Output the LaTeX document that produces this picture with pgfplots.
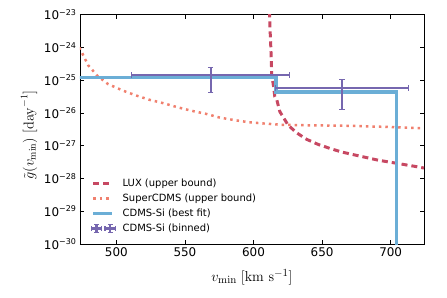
\documentclass[border=0pt]{standalone}
\usepackage[no-math]{fontspec}
\setmainfont{DejaVu Sans}
\usepackage{pgfplots}
\pgfplotsset{compat=1.18}
\definecolor{luxc}{RGB}{199,72,98}
\definecolor{scdms}{RGB}{240,128,110}
\definecolor{cdmsb}{RGB}{107,174,214}
\definecolor{cdmsp}{RGB}{118,103,175}
\begin{document}
\begin{tikzpicture}
\begin{axis}[
  at={(0,0)}, anchor=south west,
  width=344bp, height=229.3bp, scale only axis,
  ymode=log, log basis y=10,
  xmin=473.5, xmax=724.3, ymin=1e-30, ymax=1e-23,
  xtick={500,550,600,650,700},
  ytick={1e-30,1e-29,1e-28,1e-27,1e-26,1e-25,1e-24,1e-23},
  yticklabels={10\textsuperscript{−30},10\textsuperscript{−29},10\textsuperscript{−28},10\textsuperscript{−27},10\textsuperscript{−26},10\textsuperscript{−25},10\textsuperscript{−24},10\textsuperscript{−23}},
  /pgf/number format/assume math mode=true,
  /pgf/number format/1000 sep={},
  tick label style={font=\fontsize{12}{14}\selectfont, black},
  tick align=inside,
  major tick length=4bp, minor tick length=2bp,
  every tick/.style={black, line width=0.6pt},
  axis line style={line width=0.9pt},
  xlabel={$v_{\rm min}\;[{\rm km\ s^{-1}}]$},
  ylabel={$\tilde{g}(v_{\rm min})\;[{\rm day}^{-1}]$},
  xlabel style={font=\fontsize{15}{17}\selectfont, at={(axis description cs:0.5,-0.144)}, anchor=center},
  ylabel style={font=\fontsize{14}{16}\selectfont, at={(axis description cs:-0.148,0.475)}, anchor=center},
  legend style={at={(0.02,0.03)}, anchor=south west, draw=none, fill=none,
    font=\fontsize{10}{12}\selectfont, row sep=2pt, column sep=4bp},
  legend cell align=left,
  legend image code/.code={\draw[#1] (0bp,0bp) -- (18.3bp,0bp);},
]
\addplot[luxc, line width=3pt, dash pattern=on 6pt off 4pt] coordinates {
(611.7,1.26e-23) (612.0,3.98e-24) (612.4,1.70e-24) (612.9,5.01e-25)
(613.3,1.45e-25) (614.8,5.75e-26) (615.5,3.16e-26) (617.0,2.51e-26)
(619.2,1.10e-26) (625.2,4.27e-27) (631.3,2.51e-27) (638.6,1.58e-27)
(647.1,1.10e-27) (655.6,8.32e-28) (664.1,6.46e-28) (672.6,5.37e-28)
(681.1,4.47e-28) (690.8,3.63e-28) (699.3,3.16e-28) (707.9,2.75e-28)
(716.3,2.40e-28) (724.3,2.09e-28)
};
\addlegendentry{LUX (upper bound)}
\addplot[scdms, line width=2.5pt, dash pattern=on 2.5pt off 4pt] coordinates {
(473.0,1.0e-24) (474.6,7.41e-25) (479.4,2.88e-25) (486.3,1.35e-25)
(494.0,7.59e-26) (504.96,4.79e-26) (514.7,3.39e-26) (524.4,2.51e-26)
(534.1,2.00e-26) (545.0,1.48e-26) (554.8,1.17e-26) (565.7,9.33e-27)
(575.4,7.24e-27) (586.4,6.03e-27) (596.1,5.25e-27) (607.0,4.79e-27)
(620.0,4.37e-27) (640.0,4.20e-27) (669.0,4.07e-27) (700.0,3.72e-27)
(724.3,3.39e-27)
};
\addlegendentry{SuperCDMS (upper bound)}
\addplot[cdmsb, line width=3.5pt] coordinates {
(470,1.23e-25) (616.3,1.23e-25) (616.3,4.37e-26) (704.2,4.37e-26) (704.2,1e-31)
};
\addlegendentry{CDMS-Si (best fit)}
\addplot[cdmsp, line width=2pt, draw=none,
  legend image code/.code={
    \draw[cdmsp, line width=2.3bp] (-2bp,0bp) -- (8.6bp,0bp) (3.3bp,-4bp) -- (3.3bp,4bp)
      (11.7bp,0bp) -- (22.3bp,0bp) (17bp,-4bp) -- (17bp,4bp);
    \draw[cdmsp, line width=1.3bp] (-2bp,-2.4bp) -- (-2bp,2.4bp) (8.6bp,-2.4bp) -- (8.6bp,2.4bp)
      (0.9bp,4bp) -- (5.7bp,4bp) (0.9bp,-4bp) -- (5.7bp,-4bp)
      (11.7bp,-2.4bp) -- (11.7bp,2.4bp) (22.3bp,-2.4bp) -- (22.3bp,2.4bp)
      (14.6bp,4bp) -- (19.4bp,4bp) (14.6bp,-4bp) -- (19.4bp,-4bp);
  },
  error bars/.cd, x dir=both, x explicit, y dir=both, y explicit,
  error bar style={cdmsp, line width=1.8pt},
  error mark options={cdmsp, line width=1.2pt, mark size=2.8bp, rotate=90}
] coordinates {
(568.75,1.445e-25) += (57.75,0.955e-25) -= (57.75,1.03e-25)
(664.5,5.89e-26) += (48.5,4.34e-26) -= (48.5,4.63e-26)
};
\addlegendentry{CDMS-Si (binned)}
\end{axis}
\pgfresetboundingbox
\path[use as bounding box] (-80bp,-54bp) rectangle (367bp,244bp);
\end{tikzpicture}
\end{document}
